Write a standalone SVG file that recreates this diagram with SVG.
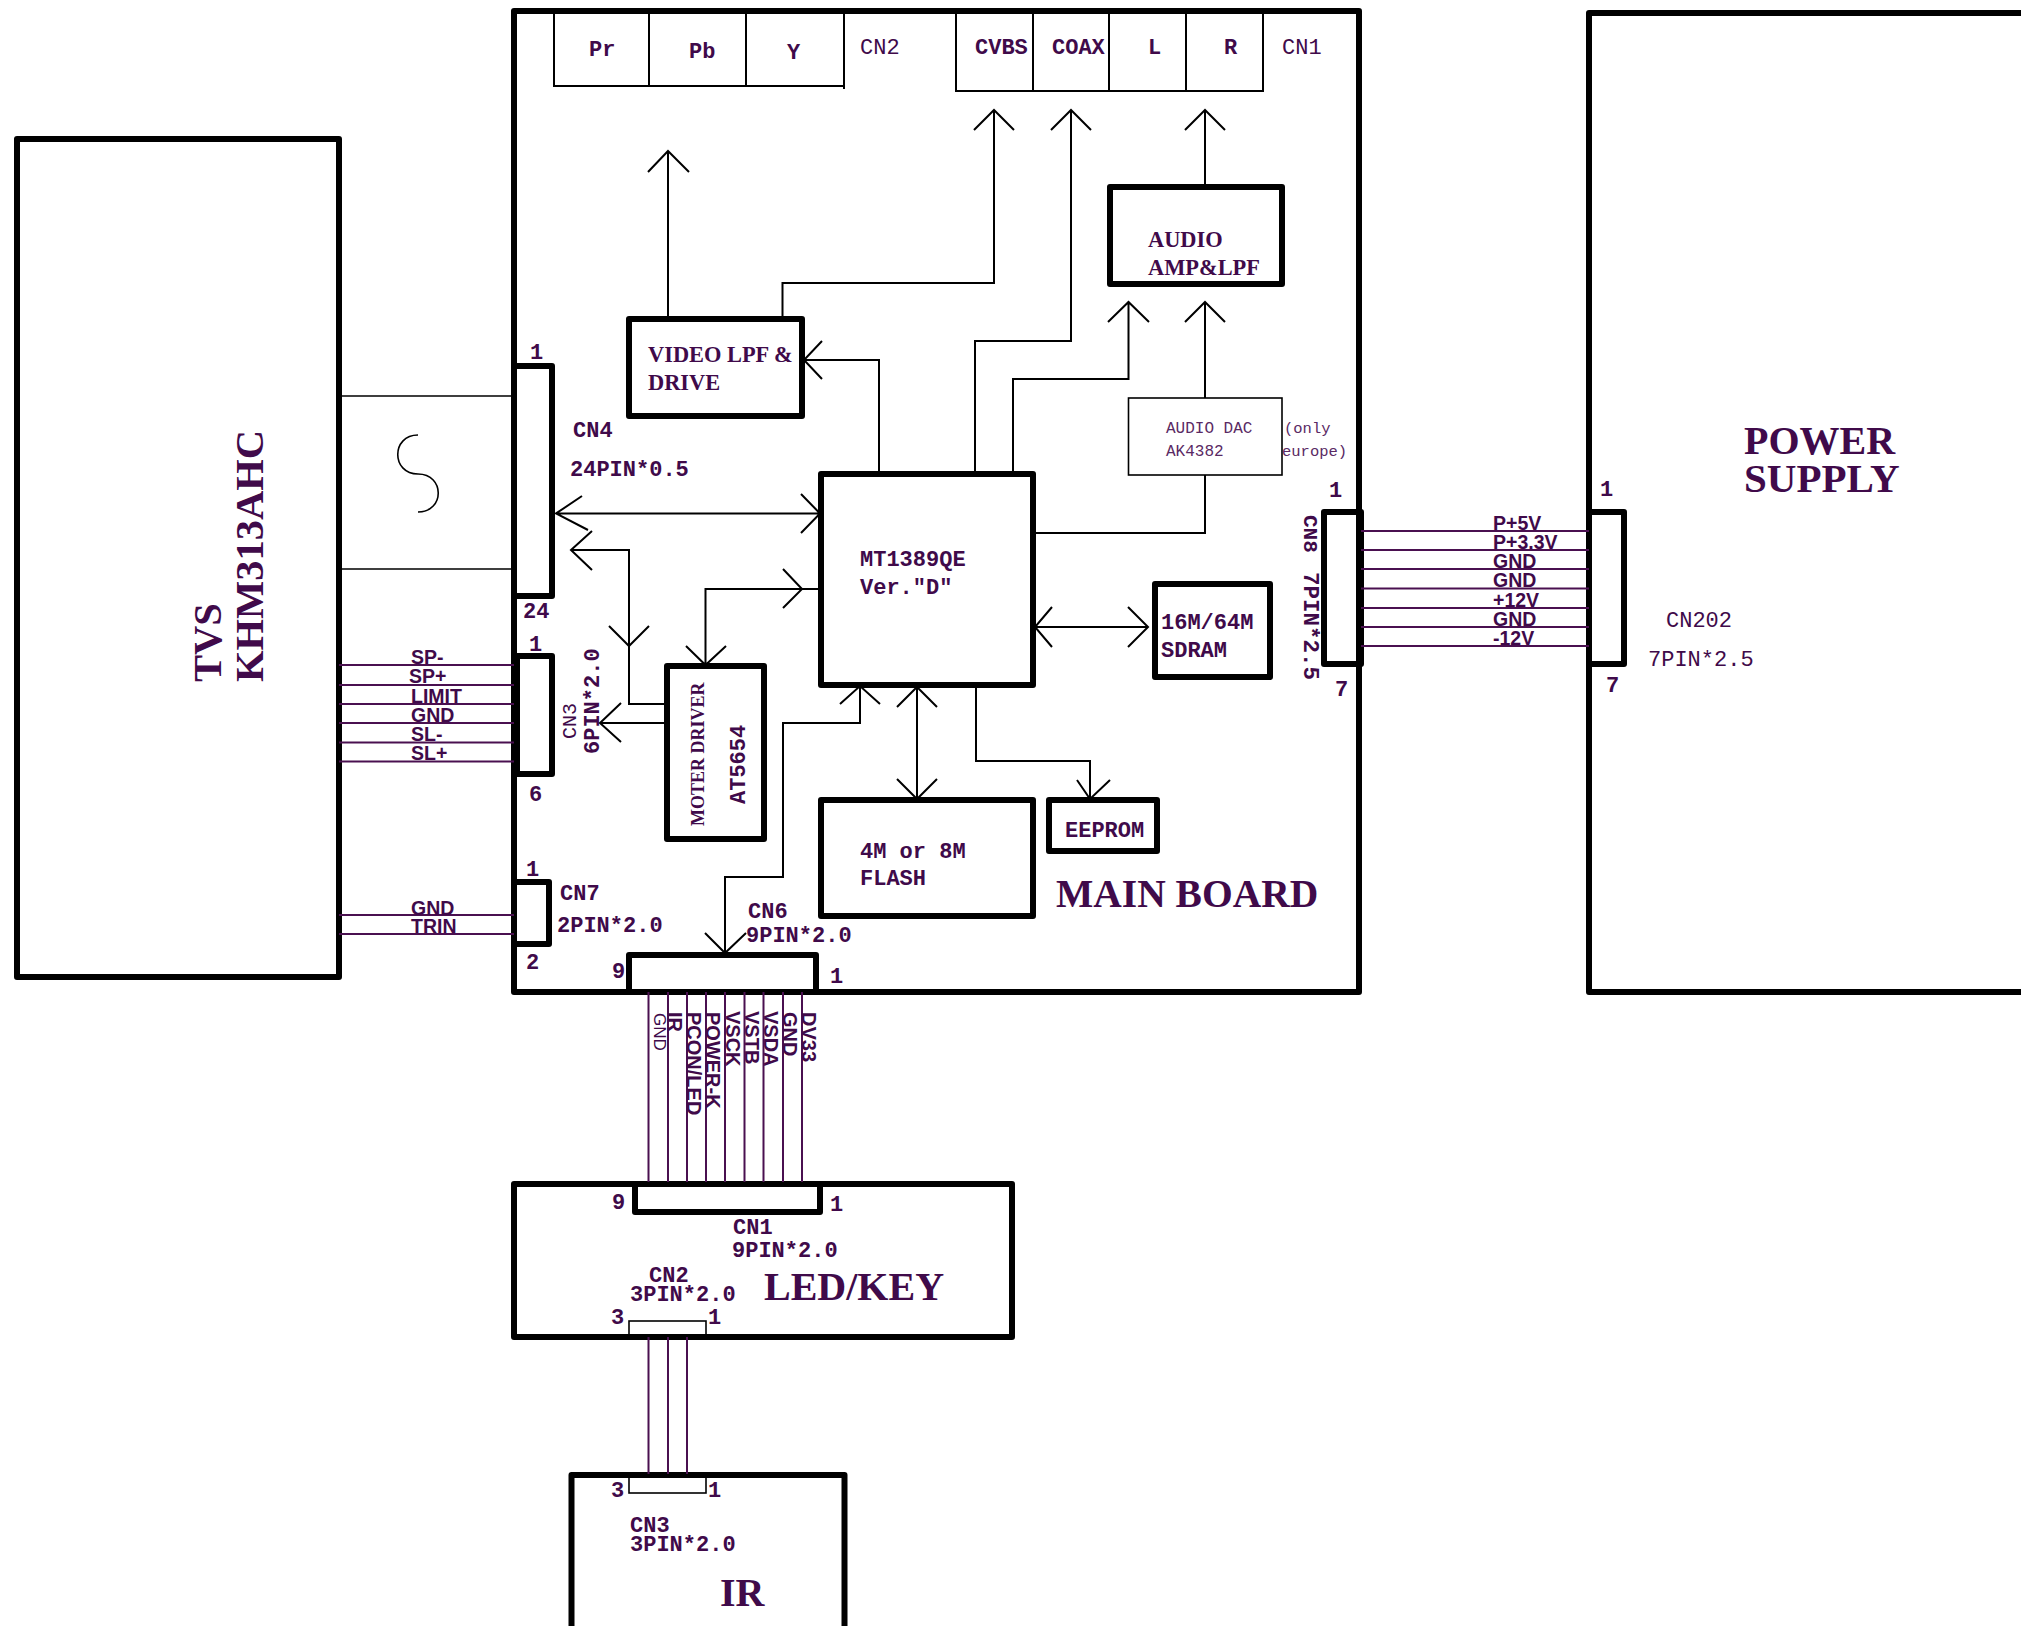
<svg xmlns="http://www.w3.org/2000/svg" width="2021" height="1626" viewBox="0 0 2021 1626">
<style>
text{fill:#400a4a}
.m{font-family:"Liberation Mono",monospace;font-size:22px;font-weight:bold}
.n{font-family:"Liberation Mono",monospace;font-size:22px}
.t{font-family:"Liberation Mono",monospace;font-size:16px;fill:#5a2a64}
.s{font-family:"Liberation Serif",serif;font-weight:bold;font-size:22.400px}
.b{font-family:"Liberation Serif",serif;font-weight:bold;font-size:40px}
.a{font-family:"Liberation Sans",sans-serif;font-weight:bold;font-size:19.500px}
.v{font-family:"Liberation Sans",sans-serif;font-weight:bold;font-size:20px}
.box{fill:none;stroke:#000;stroke-width:6;stroke-linejoin:round}
.thin{fill:none;stroke:#000;stroke-width:1.600}
.l{fill:none;stroke:#000;stroke-width:2}
.w{fill:none;stroke:#4a1050;stroke-width:2}
</style>
<g id="main-board">
<rect class="box" x="514" y="11" width="845" height="981"/>
<text class="b" style="font-size:39.500px" x="1056" y="907">MAIN BOARD</text>
</g>
<g id="tvs">
<rect class="box" x="17" y="139" width="322" height="838"/>
<text class="b" style="font-size:40.500px" transform="translate(221 682) rotate(-90)">TVS</text>
<text class="b" style="font-size:40.500px" transform="translate(263 682) rotate(-90)">KHM313AHC</text>
</g>
<g id="power-supply">
<path class="box" d="M2030 13H1589V992H2030"/>
<text class="b" x="1744" y="454">POWER</text>
<text class="b" style="font-size:41px" x="1744" y="492">SUPPLY</text>
</g>
<g id="cn2-video-out">
<path class="l" d="M554 11V86M649 11V86M746 14V86M844 11V89M553 86H844"/>
<text class="m" x="589" y="56">Pr</text><text class="m" x="689" y="58">Pb</text><text class="m" x="787" y="59">Y</text>
<text class="n" x="860" y="54">CN2</text>
</g>
<g id="cn1-out">
<path class="l" d="M956 11V91M1033 11V91M1109 11V91M1186 11V91M1263 11V91M955 91H1264"/>
<text class="m" x="975" y="54">CVBS</text><text class="m" x="1052" y="54">COAX</text><text class="m" x="1148" y="54">L</text><text class="m" x="1224" y="54">R</text>
<text class="n" x="1282" y="54">CN1</text>
</g>
<g id="audio-amp">
<rect class="box" x="1110" y="187" width="172" height="97"/>
<text class="s" x="1148" y="247">AUDIO</text><text class="s" x="1148" y="275">AMP&amp;LPF</text>
</g>
<g id="video-lpf">
<rect class="box" x="629" y="319" width="173" height="97"/>
<text class="s" x="648" y="362">VIDEO LPF &amp;</text><text class="s" x="648" y="390">DRIVE</text>
</g>
<g id="audio-dac">
<rect class="thin" x="1128.500" y="398" width="153.500" height="77"/>
<text class="t" x="1166" y="433">AUDIO DAC</text><text class="t" x="1166" y="456">AK4382</text>
<text class="t" style="font-size:15.500px" x="1284" y="433">(only</text><text class="t" style="font-size:15.500px" x="1282" y="456">europe)</text>
</g>
<g id="mcu">
<rect class="box" x="821" y="474" width="212" height="211"/>
<text class="m" x="860" y="566">MT1389QE</text><text class="m" x="860" y="594">Ver."D"</text>
</g>
<g id="sdram">
<rect class="box" x="1155" y="584" width="115" height="93"/>
<text class="m" x="1161" y="629">16M/64M</text><text class="m" x="1161" y="657">SDRAM</text>
</g>
<g id="eeprom">
<rect class="box" x="1049" y="800" width="108" height="51"/>
<text class="m" x="1065" y="837">EEPROM</text>
</g>
<g id="flash">
<rect class="box" x="821" y="800" width="212" height="116"/>
<text class="m" x="860" y="858">4M or 8M</text><text class="m" x="860" y="885">FLASH</text>
</g>
<g id="motor-driver">
<rect class="box" x="667" y="666" width="97" height="173"/>
<text class="s" style="font-size:18px" transform="translate(704 826) rotate(-90)">MOTER DRIVER</text>
<text class="m" transform="translate(745 804) rotate(-90)">AT5654</text>
</g>
<g id="cn4">
<rect class="box" x="514" y="366" width="38" height="230"/>
<text class="m" x="530" y="359">1</text><text class="m" x="523" y="618">24</text>
<text class="m" x="573" y="437">CN4</text><text class="m" x="570" y="476">24PIN*0.5</text>
</g>
<g id="cn3">
<rect class="box" x="517" y="656" width="35" height="118"/>
<text class="m" x="529" y="651">1</text><text class="m" x="529" y="801">6</text>
<text class="n" style="font-size:20px" transform="translate(576 739) rotate(-90)">CN3</text>
<text class="m" transform="translate(599 754) rotate(-90)">6PIN*2.0</text>
</g>
<g id="cn7">
<rect class="box" x="514" y="882" width="35" height="62"/>
<text class="m" x="526" y="876">1</text><text class="m" x="526" y="969">2</text>
<text class="m" x="560" y="900">CN7</text><text class="m" x="557" y="932">2PIN*2.0</text>
</g>
<g id="cn6">
<rect class="box" x="629" y="955" width="187" height="37"/>
<text class="m" x="612" y="978">9</text><text class="m" x="830" y="983">1</text>
<text class="m" x="748" y="918">CN6</text><text class="m" x="746" y="942">9PIN*2.0</text>
</g>
<g id="cn8">
<rect class="box" x="1324" y="512" width="37" height="152"/>
<text class="m" x="1329" y="497">1</text><text class="m" x="1335" y="696">7</text>
<text class="m" style="font-size:21px" transform="translate(1304 515) rotate(90)">CN8</text>
<text class="m" style="font-size:22.500px" transform="translate(1304 572) rotate(90)">7PIN*2.5</text>
</g>
<g id="cn202">
<rect class="box" x="1589" y="512" width="35" height="152"/>
<text class="m" x="1600" y="496">1</text><text class="m" x="1606" y="692">7</text>
<text class="n" x="1666" y="627">CN202</text><text class="n" x="1648" y="666">7PIN*2.5</text>
</g>
<g id="led-key">
<rect class="box" x="514" y="1184" width="498" height="153"/>
<rect class="box" x="635" y="1184" width="185" height="28"/>
<rect class="thin" x="629" y="1321" width="77" height="16"/>
<text class="m" x="612" y="1209">9</text><text class="m" x="830" y="1211">1</text>
<text class="m" x="733" y="1234">CN1</text><text class="m" x="732" y="1257">9PIN*2.0</text>
<text class="m" x="649" y="1282">CN2</text><text class="m" x="630" y="1301">3PIN*2.0</text>
<text class="m" x="611" y="1324">3</text><text class="m" x="708" y="1324">1</text>
<text class="b" x="764" y="1300">LED/KEY</text>
</g>
<g id="ir">
<path class="box" d="M571.500 1640V1475H844.500V1640"/>
<rect class="thin" x="629" y="1475" width="77" height="18"/>
<text class="m" x="611" y="1497">3</text><text class="m" x="708" y="1497">1</text>
<text class="m" x="630" y="1532">CN3</text><text class="m" x="630" y="1551">3PIN*2.0</text>
<text class="b" x="720" y="1606">IR</text>
</g>
<g id="connectors">
<path class="l" d="M668 319V151M648 172L668 151L689 172"/>
<path class="l" d="M782.500 319V283H994V110M974 130L994 110L1014 130"/>
<path class="l" d="M975 472V341H1071V110M1051 130L1071 110L1091 130"/>
<path class="l" d="M1205 185V110M1185 130L1205 110L1225 130"/>
<path class="l" d="M1013 472V379H1128.500V302M1108 322L1128.500 302L1149 322"/>
<path class="l" d="M1205 398V302M1185 322L1205 302L1225 322"/>
<path class="l" d="M879 472V360H804M822 341L804 360L822 379"/>
<path class="l" d="M1205 475V533H1033"/>
<path class="l" d="M1035 627H1148M1128 607L1148 627L1128 647M1052 607L1035 627L1052 647"/>
<path class="l" d="M976 685V761H1090V799M1077 780L1090 799L1110 780"/>
<path class="l" d="M917 687V799M897 707L917 687L937 707M897 779L917 799L937 779"/>
<path class="l" d="M556 513.500H820M582 496L556 513.500L588 530M801 494L820 513.500L801 533"/>
<path class="l" d="M571 550H629V704H665M592 531L571 550L592 570M609 626L629 646L649 626"/>
<path class="l" d="M665 723H600M621 703L600 723L621 742"/>
<path class="l" d="M820 589H705.500V665M783 569L802 589L783 608M686 646L705.500 665L726 646"/>
<path class="l" d="M725 953V877H783V723H860V686M840 704L860 686L880 704M705 933L725 953L746 933"/>
<path class="thin" d="M339 396H514M339 569H514"/>
<path class="thin" d="M418 435C391 435 391 474 418 474C445 474 445 512 418 512"/>
<path class="w" d="M339 665H514M339 685H514M339 704H514M339 723H514M339 742.500H514M339 761.500H514M339 915H514M339 934H514"/>
<path class="w" d="M1361 531H1589M1361 550H1589M1361 569H1589M1361 588.500H1589M1361 608H1589M1361 627H1589M1361 646H1589"/>
<path class="w" d="M648.500 992V1182M668 992V1182M687 992V1182M706 992V1182M725 992V1182M744.500 992V1182M763.500 992V1182M783 992V1182M802 992V1182"/>
<path class="w" d="M648.500 1337V1474M668 1337V1474M687 1337V1474"/>
<g>
<text class="a" x="411" y="664">SP-</text><text class="a" x="409" y="683">SP+</text><text class="a" x="411" y="703">LIMIT</text><text class="a" x="411" y="722">GND</text><text class="a" x="411" y="741">SL-</text><text class="a" x="411" y="760">SL+</text>
<text class="a" x="411" y="915">GND</text><text class="a" x="411" y="933">TRIN</text>
<text class="a" x="1493" y="530">P+5V</text><text class="a" x="1493" y="549">P+3.3V</text><text class="a" x="1493" y="568">GND</text><text class="a" x="1493" y="587">GND</text><text class="a" x="1493" y="607">+12V</text><text class="a" x="1493" y="626">GND</text><text class="a" x="1493" y="645">-12V</text>
<text class="v" style="font-weight:normal;font-size:17px" transform="translate(654 1013) rotate(90)">GND</text>
<text class="v" transform="translate(668 1012) rotate(90)">IR</text>
<text class="v" transform="translate(687 1012) rotate(90)">PCON/LED</text>
<text class="v" transform="translate(706 1012) rotate(90)">POWER-K</text>
<text class="v" transform="translate(725.500 1011) rotate(90)">VSCK</text>
<text class="v" transform="translate(744.500 1011) rotate(90)">VSTB</text>
<text class="v" transform="translate(763.500 1011) rotate(90)">VSDA</text>
<text class="v" transform="translate(783 1012) rotate(90)">GND</text>
<text class="v" transform="translate(802 1012) rotate(90)">DV33</text>
</g>
</g>
</svg>
